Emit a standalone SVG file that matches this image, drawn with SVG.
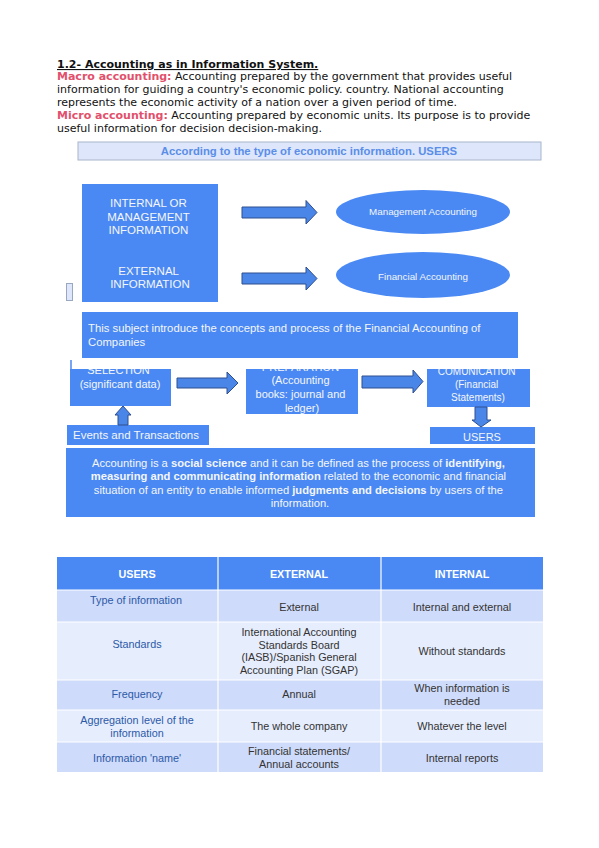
<svg xmlns="http://www.w3.org/2000/svg" width="599" height="848" viewBox="0 0 599 848">
<style>
.hd{font-family:"DejaVu Sans",sans-serif;font-size:11px;fill:#111}
.red{fill:#e2506c;font-weight:bold}
.box{fill:#4a89f3}
.wt{font-family:"Liberation Sans",Arial,sans-serif;fill:#f4f6fb}
.arr{fill:#4a86e8;stroke:#2f4f8f;stroke-width:1}
.tb{font-family:"Liberation Sans",Arial,sans-serif;font-size:10.8px;text-anchor:middle}
.c1{fill:#2c5aa8}
.cx{fill:#333}
.th{fill:#fff;font-weight:bold;font-size:10.8px}
.ra{fill:#cfdbfa}
.rb{fill:#e6edfd}
</style>
<defs>
<clipPath id="cpSel"><rect x="70" y="369" width="101" height="37"/></clipPath>
<clipPath id="cpPrep"><rect x="246" y="369" width="112" height="45"/></clipPath>
<clipPath id="cpCom"><rect x="427" y="369" width="103" height="38"/></clipPath>
</defs>

<g id="intro">
<text class="hd" x="57" y="68" font-weight="bold" text-decoration="underline">1.2- Accounting as in Information System.</text>
<text class="hd" x="57" y="80"><tspan class="red">Macro accounting:</tspan> Accounting prepared by the government that provides useful</text>
<text class="hd" x="57" y="93">information for guiding a country's economic policy. country. National accounting</text>
<text class="hd" x="57" y="106">represents the economic activity of a nation over a given period of time.</text>
<text class="hd" x="57" y="119"><tspan class="red">Micro accounting:</tspan> Accounting prepared by economic units. Its purpose is to provide</text>
<text class="hd" x="57" y="132">useful information for decision decision-making.</text>
</g>

<g id="title-box">
<rect x="78" y="142" width="463" height="18" fill="#dde6fb" stroke="#a9b6cc" stroke-width="1"/>
<text x="309" y="154.5" font-family="Liberation Sans,Arial,sans-serif" font-size="11.3" font-weight="bold" fill="#5a8ee8" text-anchor="middle">According to the type of economic information. USERS</text>
</g>

<g id="info-box">
<rect class="box" x="82" y="184" width="136" height="118"/>
<text class="wt" font-size="11.5" text-anchor="middle">
<tspan x="150" y="207">INTERNAL OR</tspan>
<tspan x="150" y="221">MANAGEMENT</tspan>
<tspan x="150" y="234">INFORMATION</tspan>
<tspan x="150" y="275">EXTERNAL</tspan>
<tspan x="150" y="288">INFORMATION</tspan>
</text>
</g>

<g id="hidden-fragment">
<rect x="66.5" y="283.5" width="6" height="17" fill="#dde6fb" stroke="#9aa8bf" stroke-width="1"/>
</g>

<g id="mgmt-acc">
<ellipse class="box" cx="423" cy="212" rx="87" ry="22"/>
<text class="wt" x="423" y="215" font-size="9.8" text-anchor="middle">Management Accounting</text>
</g>
<g id="fin-acc">
<ellipse class="box" cx="423" cy="275" rx="87" ry="23"/>
<text class="wt" x="423" y="280" font-size="9.8" text-anchor="middle">Financial Accounting</text>
</g>

<g id="subject-box">
<rect class="box" x="82" y="312" width="436" height="46"/>
<text class="wt" font-size="11.3">
<tspan x="88" y="332">This subject introduce the concepts and process of the Financial Accounting of</tspan>
<tspan x="88" y="346">Companies</tspan>
</text>
</g>

<g id="selection">
<line x1="71" y1="360" x2="71" y2="370" stroke="#4a89f3" stroke-width="1.5"/>
<rect class="box" x="70" y="369" width="101" height="37"/>
<g clip-path="url(#cpSel)">
<text class="wt" font-size="11" text-anchor="middle">
<tspan x="120" y="374">SELECTION</tspan>
<tspan x="120" y="388">(significant data)</tspan>
</text>
</g>
</g>

<g id="preparation">
<rect class="box" x="246" y="369" width="112" height="45"/>
<g clip-path="url(#cpPrep)">
<text class="wt" font-size="11" text-anchor="middle">
<tspan x="302" y="371">PREPARATION</tspan>
<tspan x="302" y="384">(Accounting</tspan>
<tspan x="302" y="398">books: journal and</tspan>
<tspan x="302" y="412">ledger)</tspan>
</text>
</g>
</g>

<g id="comunication">
<rect class="box" x="427" y="369" width="103" height="38"/>
<g clip-path="url(#cpCom)">
<text class="wt" font-size="10" text-anchor="middle">
<tspan x="478" y="375">COMUNICATION</tspan>
<tspan x="478" y="388">(Financial</tspan>
<tspan x="478" y="401">Statements)</tspan>
</text>
</g>
</g>

<g id="events">
<rect class="box" x="67" y="425" width="142" height="20"/>
<text class="wt" x="73" y="439" font-size="11.5">Events and Transactions</text>
</g>

<g id="users-box">
<rect class="box" x="430" y="427" width="105" height="17"/>
<text class="wt" x="482" y="441" font-size="11" text-anchor="middle">USERS</text>
</g>

<g id="connectors">
<path class="arr" d="M242,207 H306 V200.5 L317,212.5 L306,224 V218 H242 Z"/>
<path class="arr" d="M242,273 H306 V267 L317,278.5 L306,290 V284 H242 Z"/>
<path class="arr" d="M177,378 H227 V372 L238,383 L227,394 V388 H177 Z"/>
<path class="arr" d="M362,376 H413 V370 L423,381.5 L413,393 V388 H362 Z"/>
<path class="arr" d="M475,407 H487 V420 H491 L481,427 L472,420 H475 Z"/>
<path class="arr" d="M118,425 V415 H115 L123,406 L131,415 H128 V425 Z"/>
</g>

<g id="definition">
<rect class="box" x="66" y="448" width="469" height="69"/>
<text class="wt" font-size="11.2" text-anchor="middle">
<tspan x="300" y="467">Accounting is a <tspan font-weight="bold">social science</tspan> and it can be defined as the process of <tspan font-weight="bold">identifying,</tspan></tspan>
<tspan x="300" y="480"><tspan font-weight="bold">measuring and communicating information</tspan> related to the  economic and financial</tspan>
<tspan x="300" y="494">situation of an entity to enable informed <tspan font-weight="bold">judgments and decisions</tspan> by users of the</tspan>
<tspan x="300" y="507">information.</tspan>
</text>
</g>

<g id="table">
<rect x="57" y="557" width="486" height="33" fill="#4a89f3"/>
<rect class="ra" x="57" y="590" width="486" height="32"/>
<rect class="rb" x="57" y="622" width="486" height="58"/>
<rect class="ra" x="57" y="680" width="486" height="30"/>
<rect class="rb" x="57" y="710" width="486" height="32"/>
<rect class="ra" x="57" y="742" width="486" height="30"/>
<g stroke="#ffffff" stroke-width="1.2">
<line x1="218" y1="557" x2="218" y2="772"/>
<line x1="381" y1="557" x2="381" y2="772"/>
<line x1="57" y1="590" x2="543" y2="590"/>
<line x1="57" y1="622" x2="543" y2="622"/>
<line x1="57" y1="680" x2="543" y2="680"/>
<line x1="57" y1="710" x2="543" y2="710"/>
<line x1="57" y1="742" x2="543" y2="742"/>
</g>
<text class="tb th" x="137" y="578">USERS</text>
<text class="tb th" x="299" y="578">EXTERNAL</text>
<text class="tb th" x="462" y="578">INTERNAL</text>

<text class="tb c1" x="136" y="604">Type of information</text>
<text class="tb cx" x="299" y="611">External</text>
<text class="tb cx" x="462" y="611">Internal and external</text>

<text class="tb c1" x="137" y="648">Standards</text>
<text class="tb cx"><tspan x="299" y="636">International Accounting</tspan><tspan x="299" y="648.6">Standards Board</tspan><tspan x="299" y="661.2">(IASB)/Spanish General</tspan><tspan x="299" y="673.8">Accounting Plan (SGAP)</tspan></text>
<text class="tb cx" x="462" y="655">Without standards</text>

<text class="tb c1" x="137" y="698">Frequency</text>
<text class="tb cx" x="299" y="698">Annual</text>
<text class="tb cx"><tspan x="462" y="692">When information is</tspan><tspan x="462" y="705">needed</tspan></text>

<text class="tb c1"><tspan x="137" y="724">Aggregation level of the</tspan><tspan x="137" y="737">information</tspan></text>
<text class="tb cx" x="299" y="730">The whole company</text>
<text class="tb cx" x="462" y="730">Whatever the level</text>

<text class="tb c1" x="137" y="762">Information 'name'</text>
<text class="tb cx"><tspan x="299" y="755">Financial statements/</tspan><tspan x="299" y="768">Annual accounts</tspan></text>
<text class="tb cx" x="462" y="762">Internal reports</text>
</g>
</svg>
